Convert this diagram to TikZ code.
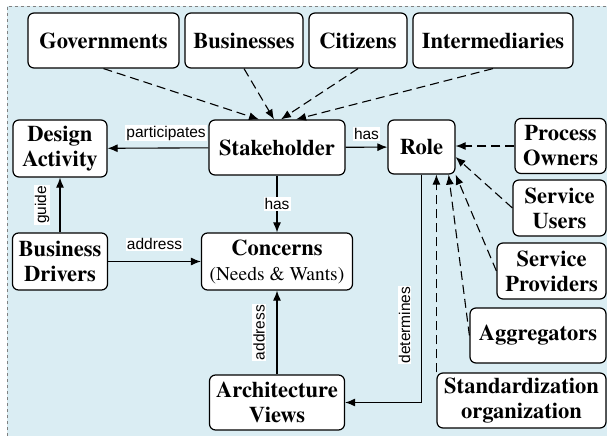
\documentclass[tikz,border=0pt]{standalone}
\usepackage{fontspec}
\usepackage{tikz}
\usetikzlibrary{arrows.meta}
\setmainfont{texgyretermes}[Extension=.otf, UprightFont=*-regular, BoldFont=*-bold,
  ItalicFont=*-italic, BoldItalicFont=*-bolditalic]
\newfontfamily\edgefont{Liberation Sans}
\definecolor{panelblue}{RGB}{218,237,243}
\newcommand{\boxFont}[0]{\rmfamily\fontsize{22.5}{25}\selectfont\bfseries}
\newcommand{\edgeFont}[0]{\edgefont\fontsize{15.5}{17}\selectfont}
\newcommand{\subText}[1]{{\fontsize{19.5}{22}\selectfont\mdseries #1}}

\begin{document}
\begin{tikzpicture}[x=1pt, y=-1pt]
  \tikzset{entity/.style={draw, line width=1.2pt, rounded corners=6pt, fill=white,
    align=center, inner sep=2pt, minimum height=55pt, font=\boxFont}}
  \tikzset{rel/.style={-{Latex[length=10pt,width=8pt]}, line width=1.1pt}}
  \tikzset{kind/.style={rel, dash pattern=on 9pt off 5pt}}
  \tikzset{tag/.style={fill=white, inner sep=1pt, font=\edgeFont}}
  \useasboundingbox (0,0) rectangle (607,436);
  \fill[panelblue] (7,6) rectangle (607,436);
  \draw[gray, dashed] (7,436) -- (7,6) -- (607,6);

  % kinds of stakeholders
  \node[entity, minimum width=151pt] (gov) at (103.5,40.5) {Governments};
  \node[entity, minimum width=118pt] (bus) at (244,40.5) {Businesses};
  \node[entity, minimum width=98pt] (cit) at (358,40.5) {Citizens};
  \node[entity, minimum width=160pt] (inter) at (493,40.5) {Intermediaries};

  \node[entity, minimum width=94pt, minimum height=57pt] (design) at (60,148.5) {Design\\Activity};
  \node[entity, minimum width=136pt] (stake) at (277,147.5) {Stakeholder};
  \node[entity, minimum width=67pt, minimum height=54pt] (role) at (421.5,147) {Role};

  % kinds of roles
  \node[entity, minimum width=91pt] (proc) at (560.5,146) {Process\\Owners};
  \node[entity, minimum width=93pt, minimum height=56pt] (users) at (559.5,208) {Service\\Users};
  \node[entity, minimum width=109pt, minimum height=56pt] (prov) at (551.5,271) {Service\\Providers};
  \node[entity, minimum width=136pt] (aggr) at (538,335.5) {Aggregators};
  \node[entity, minimum width=169pt] (std) at (521.5,400.5) {Standardization\\organization};

  \node[entity, minimum width=95pt, minimum height=57pt] (drivers) at (60,261.5) {Business\\Drivers};
  \node[entity, minimum width=151pt, minimum height=57pt] (concerns) at (277,261.5) {Concerns\\\subText{(Needs \& Wants)}};
  \node[entity, minimum width=135pt] (arch) at (277,402.5) {Architecture\\Views};

  % is-a links
  \draw[kind] (gov.south) -- ([xshift=-18pt]stake.north);
  \draw[kind] (bus.south) -- ([xshift=-3pt]stake.north);
  \draw[kind] (cit.south) -- ([xshift=4pt]stake.north);
  \draw[kind] (inter.south) -- ([xshift=19pt]stake.north);
  \draw[kind] (proc.west) -- (proc.west -| role.east);
  \draw[kind] (users.west) -- ([yshift=-10pt]role.east);
  \draw[kind] (prov.west) -- (role.south east);
  \draw[kind] (aggr.west) -- ([xshift=-7pt]role.south east);
  \draw[kind] (std.north west) -- (std.north west |- role.south);

  % relations
  \draw[rel] (stake) -- node[tag, pos=0.42, above=6pt] (lpart) {participates} (design);
  \draw[rel] (stake) -- node[tag, above=6pt] (lhasrole) {has} (role);
  \draw[rel] (stake) -- node[tag] (lhasconc) {has} (concerns);
  \draw[rel] (drivers) -- node[tag, xshift=-18pt, rotate=90] (lguide) {guide} (design);
  \draw[rel] (drivers) -- node[tag, above=10pt] (laddrdrv) {address} (concerns);
  \draw[rel] (arch) -- node[tag, xshift=-18pt, rotate=90] (laddrarch) {address} (concerns);
  \draw[rel] (role.south) |- node[tag, pos=0.33, xshift=-17pt, rotate=90] (ldet) {determines} (arch.east);
\end{tikzpicture}
\end{document}
